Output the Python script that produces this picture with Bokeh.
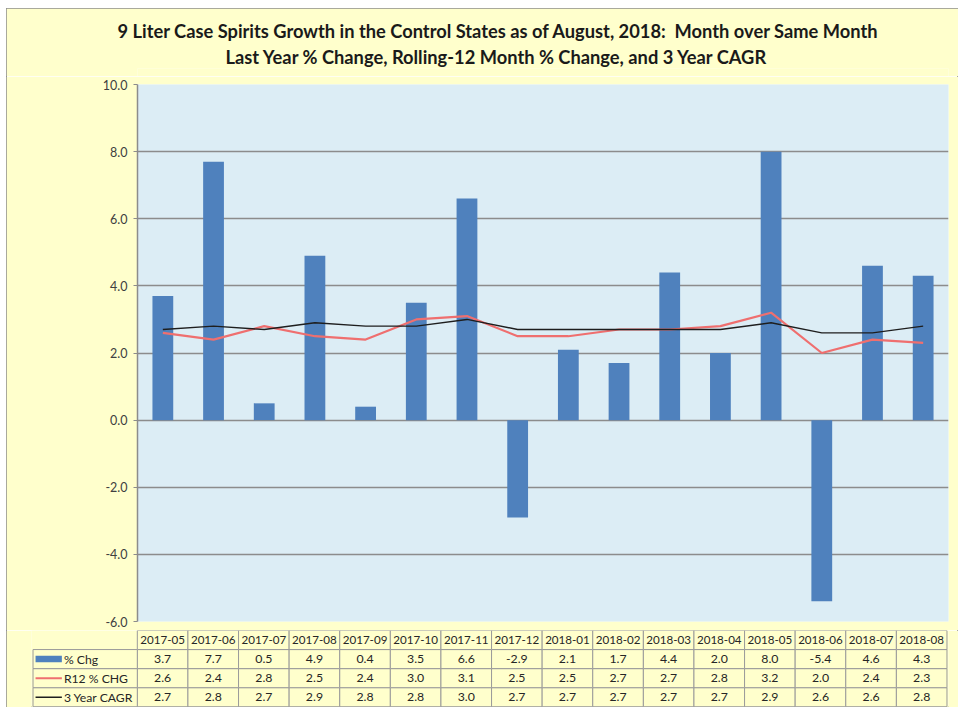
from bokeh.plotting import figure
from bokeh.models import Range1d, FixedTicker, NumeralTickFormatter, Title, ColumnDataSource
from bokeh.layouts import column
from bokeh.embed import file_html
from bokeh.resources import INLINE
from bokeh.core.properties import value

months = ["2017-05", "2017-06", "2017-07", "2017-08", "2017-09", "2017-10", "2017-11", "2017-12",
          "2018-01", "2018-02", "2018-03", "2018-04", "2018-05", "2018-06", "2018-07", "2018-08"]
pct_chg = [3.7, 7.7, 0.5, 4.9, 0.4, 3.5, 6.6, -2.9, 2.1, 1.7, 4.4, 2.0, 8.0, -5.4, 4.6, 4.3]
r12_chg = [2.6, 2.4, 2.8, 2.5, 2.4, 3.0, 3.1, 2.5, 2.5, 2.7, 2.7, 2.8, 3.2, 2.0, 2.4, 2.3]
cagr3 = [2.7, 2.8, 2.7, 2.9, 2.8, 2.8, 3.0, 2.7, 2.7, 2.7, 2.7, 2.7, 2.9, 2.6, 2.6, 2.8]
series_names = ["% Chg", "R12 % CHG", "3 Year CAGR"]
y_ticks = [-6, -4, -2, 0, 2, 4, 6, 8, 10]
title1 = "9 Liter Case Spirits Growth in the Control States as of August, 2018:\u00a0 Month over Same Month"
title2 = "Last Year % Change, Rolling-12 Month % Change, and 3 Year CAGR"

YELLOW = "#FFFFCC"
PLOTBG = "#DCEDF5"
BLUE = "#4F81BD"
RED = "#EF6F6F"
BLACK = "#1E1E1E"
GRID = "#8C8C8C"
FONT = "Lato"
TXT = "#262626"

OX, OY = 6, 8          # page position of the chart box
W = 952
LEFT = 137 - OX
RIGHT = 958 - 948
TOPPAD = 8
BOTPAD = 9
FRAME_BOTTOM = 621
n = len(months)
xs = list(range(n))

# ---- title strip ----
p0 = figure(width=W, height=84 - TOPPAD - OY, output_backend="svg", toolbar_location=None,
            x_axis_location=None, y_axis_location=None, title=None,
            min_border_left=LEFT, min_border_right=RIGHT, min_border_top=60, min_border_bottom=0)
p0.frame_align = False
p0.background_fill_color = YELLOW
p0.border_fill_color = YELLOW
p0.outline_line_color = None
p0.grid.visible = False
t2 = Title(text=title2, align="left", offset=88, text_font=FONT, text_font_size="18.3px",
           text_font_style="bold", text_color="#1a1a1a", standoff=2)
t1 = Title(text=title1, align="left", offset=-20, text_font=FONT, text_font_size="18.3px",
           text_font_style="bold", text_color="#1a1a1a", standoff=2)
p0.add_layout(t2, "above")
p0.add_layout(t1, "above")

# ---- main chart ----
p1 = figure(width=W, height=FRAME_BOTTOM - 84 + TOPPAD + BOTPAD, x_range=Range1d(-0.5, n - 0.5),
            y_range=Range1d(-6, 10),
            output_backend="svg", toolbar_location=None, x_axis_location=None,
            min_border_left=LEFT, min_border_right=RIGHT, min_border_top=TOPPAD, min_border_bottom=BOTPAD,
            title=None)
p1.frame_align = False
p1.background_fill_color = PLOTBG
p1.border_fill_color = YELLOW
p1.outline_line_color = None

p1.xgrid.visible = False
p1.ygrid.grid_line_color = GRID
p1.ygrid.grid_line_width = 1.3
p1.yaxis.ticker = FixedTicker(ticks=y_ticks)
p1.yaxis.formatter = NumeralTickFormatter(format="0.0")
p1.yaxis.minor_tick_line_color = None
p1.yaxis.major_tick_in = 0
p1.yaxis.major_tick_out = 4
p1.yaxis.major_tick_line_color = GRID
p1.yaxis.axis_line_color = GRID
p1.yaxis.axis_line_width = 1.5
p1.yaxis.major_label_text_font = FONT
p1.yaxis.major_label_text_font_size = "12.5px"
p1.yaxis.major_label_text_color = "#404040"
p1.yaxis.major_label_standoff = 6

src = ColumnDataSource(dict(x=xs, chg=pct_chg, r12=r12_chg, cagr=cagr3))
p1.vbar(x="x", top="chg", bottom=0, width=0.41, source=src, fill_color=BLUE, line_color=None)
p1.line(x="x", y="r12", source=src, line_color=RED, line_width=2.2)
p1.line(x="x", y="cagr", source=src, line_color=BLACK, line_width=1.4)

# ---- data table below ----
cell_w = (W - LEFT - RIGHT) / n
left_frame = 31 - OX
legend_w = (137 - 31) / cell_w
x0 = -0.5 - legend_w
p2 = figure(width=W, height=707 - (FRAME_BOTTOM + BOTPAD), x_range=Range1d(x0, n - 0.5 + 0.03),
            y_range=Range1d(-0.04, 4),
            output_backend="svg", toolbar_location=None, x_axis_location=None, y_axis_location=None,
            min_border_left=left_frame, min_border_right=RIGHT, min_border_top=0, min_border_bottom=0,
            title=None)
p2.frame_align = False
p2.background_fill_color = YELLOW
p2.border_fill_color = YELLOW
p2.outline_line_color = None
p2.grid.visible = False

ql, qr, qb, qt = [], [], [], []
for r in range(4):
    for i in xs:
        ql.append(i - 0.5); qr.append(i + 0.5); qb.append(r); qt.append(r + 1)
for r in range(3):
    ql.append(x0 + 0.03); qr.append(-0.5); qb.append(r); qt.append(r + 1)
p2.quad(left=ql, right=qr, bottom=qb, top=qt, fill_color=YELLOW, line_color="#9A9A9A", line_width=1)

rows = [pct_chg, r12_chg, cagr3]
p2.text(x=xs, y=[3.5] * n, text=months, text_align="center", text_baseline="middle",
        text_font=value(FONT), text_font_size="11.6px", text_color=TXT)
for k, vals in enumerate(rows):
    yy = 2.5 - k
    p2.text(x=xs, y=[yy] * n, text=["%.1f" % v for v in vals], text_align="center",
            text_baseline="middle", text_font=value(FONT), text_font_size="12.3px", text_color=TXT)

key_l = x0 + 0.08
key_r = x0 + 0.6
p2.quad(left=[key_l], right=[key_r], bottom=[2.5 - 0.17], top=[2.5 + 0.17], fill_color=BLUE, line_color=None)
p2.segment(x0=[key_l], x1=[key_r], y0=[1.5], y1=[1.5], line_color=RED, line_width=2)
p2.segment(x0=[key_l], x1=[key_r], y0=[0.5], y1=[0.5], line_color=BLACK, line_width=1.5)
p2.text(x=[key_r + 0.04] * 3, y=[2.5, 1.5, 0.5], text=series_names, text_align="left",
        text_baseline="middle", text_font=value(FONT), text_font_size="12.2px", text_color=TXT)

layout = column(p0, p1, p2, spacing=0,
                styles={"outline": "1px solid #8C8C8C", "outline-offset": "-1px",
                        "margin-left": "%dpx" % OX, "margin-top": "%dpx" % OY})

open("out.html", "w").write(file_html(layout, INLINE))
